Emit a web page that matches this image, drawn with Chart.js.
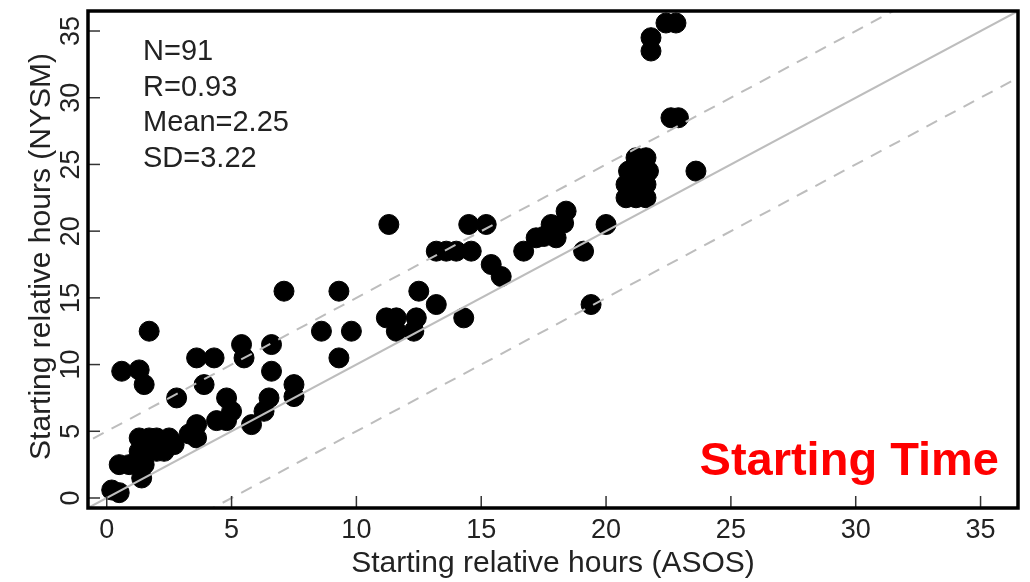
<!DOCTYPE html>
<html>
<head>
<meta charset="utf-8">
<script src="https://cdn.jsdelivr.net/npm/chart.js@4/dist/chart.umd.min.js"></script>
<style>
  html, body { margin: 0; padding: 0; background: #fff; }
  #wrap { width: 1030px; height: 582px; }
</style>
</head>
<body>
<div id="wrap"><canvas id="chart-start" width="1030" height="582"></canvas></div>
<script>
// ASOS (x) vs NYSM (y) starting relative hours
const asosHours = [
  0.2, 0.5, 0.5, 0.9, 1.4, 1.3, 1.3, 1.7, 2.0, 1.6, 2.0, 2.5, 2.3, 1.5, 2.7,
  0.6, 1.3, 1.5, 1.7, 2.8, 3.6, 4.3, 3.9, 3.6, 3.6, 4.4, 4.8, 4.8, 5.0, 5.4,
  5.5, 5.8, 6.3, 6.5, 6.6, 6.6, 7.5, 7.5, 7.1, 9.3, 8.6, 9.8, 9.3, 11.3, 11.2,
  11.6, 11.6, 12.4, 12.3, 12.5, 13.2, 14.3, 13.2, 13.6, 14.0, 14.6, 14.5, 15.2, 15.4, 15.8,
  16.7, 17.2, 17.5, 17.8, 18.0, 18.4, 18.3, 19.1, 19.4, 20.0,
  20.8, 21.2, 21.6, 20.8, 21.2, 21.6, 20.9, 21.3, 21.7, 21.2, 21.6, 21.0,
  23.6, 22.6, 22.9, 21.8, 21.8, 22.4, 22.8, 1.8, 3.3
];
const nysmHours = [
  0.6, 0.4, 2.5, 2.5, 1.5, 3.5, 4.5, 4.5, 4.5, 3.5, 3.5, 4.5, 3.5, 2.5, 4.0,
  9.5, 9.6, 8.5, 12.5, 7.5, 10.5, 10.5, 8.5, 5.5, 4.5, 5.8, 5.8, 7.5, 6.5, 11.5,
  10.5, 5.5, 6.5, 7.5, 9.5, 11.5, 8.5, 7.6, 15.5, 15.5, 12.5, 12.5, 10.5, 20.5, 13.5,
  13.5, 12.5, 13.5, 12.5, 15.5, 14.5, 13.5, 18.5, 18.5, 18.5, 18.5, 20.5, 20.5, 17.5, 16.6,
  18.5, 19.5, 19.6, 20.5, 19.5, 21.5, 20.6, 18.5, 14.5, 20.5,
  22.5, 22.5, 22.5, 23.5, 23.5, 23.5, 24.5, 24.5, 24.5, 25.5, 25.5, 24.0,
  24.5, 28.5, 28.5, 33.5, 34.5, 35.6, 35.6, 4.0, 4.8
];
const tickValues = [0, 5, 10, 15, 20, 25, 30, 35];
const axisMin = -0.75;
const axisMax = 36.5;
const lineOffsets = [0, 5, -5];   // 1:1 line and +/- 5 h
const lineEnds = [-5, 45];
const statLines = ['N=91', 'R=0.93', 'Mean=2.25', 'SD=3.22'];
const xTitle = 'Starting relative hours (ASOS)';
const yTitle = 'Starting relative hours (NYSM)';
const panelLabel = 'Starting Time';

const FONT = '"Liberation Sans", Arial, Helvetica, sans-serif';

const points = asosHours.map((x, i) => ({x, y: nysmHours[i]}));

const refLines = lineOffsets.map(off => ({
  type: 'line',
  data: lineEnds.map(x => ({x, y: x + off})),
  borderColor: '#bdbdbd',
  borderWidth: 2,
  borderDash: off === 0 ? [] : [12, 9],
  pointRadius: 0,
  showLine: true,
  order: 0
}));

const framePlugin = {
  id: 'frame',
  afterDraw(chart) {
    const {ctx, chartArea: a, scales} = chart;
    ctx.save();
    // inward ticks
    ctx.strokeStyle = '#333';
    ctx.lineWidth = 1.5;
    tickValues.forEach(v => {
      const px = scales.x.getPixelForValue(v);
      ctx.beginPath(); ctx.moveTo(px, a.bottom); ctx.lineTo(px, a.bottom - 12); ctx.stroke();
      const py = scales.y.getPixelForValue(v);
      ctx.beginPath(); ctx.moveTo(a.left, py); ctx.lineTo(a.left + 12, py); ctx.stroke();
    });
    // box
    ctx.strokeStyle = '#000';
    ctx.lineWidth = 3.5;
    ctx.strokeRect(a.left, a.top, a.right - a.left, a.bottom - a.top);

    // y tick labels, rotated like R's default
    ctx.fillStyle = '#222';
    ctx.font = '27px ' + FONT;
    ctx.textAlign = 'center';
    ctx.textBaseline = 'alphabetic';
    tickValues.forEach(v => {
      const py = scales.y.getPixelForValue(v);
      ctx.save();
      ctx.translate(79, py);
      ctx.rotate(-Math.PI / 2);
      ctx.fillText(String(v), 0, 0);
      ctx.restore();
    });

    // axis titles
    ctx.font = '30px ' + FONT;
    ctx.fillText(xTitle, (a.left + a.right) / 2, 572);
    ctx.save();
    ctx.translate(50, (a.top + a.bottom) / 2 - 3);
    ctx.rotate(-Math.PI / 2);
    ctx.fillText(yTitle, 0, 0);
    ctx.restore();

    // stats block
    ctx.font = '29px ' + FONT;
    ctx.textAlign = 'left';
    statLines.forEach((s, i) => ctx.fillText(s, 143, 60 + i * 35.7));

    // panel label
    ctx.fillStyle = '#ff0000';
    ctx.font = 'bold 47px ' + FONT;
    ctx.textAlign = 'right';
    ctx.fillText(panelLabel, 999, 475);
    ctx.restore();
  }
};

const chart = new Chart(document.getElementById('chart-start'), {
  type: 'scatter',
  data: {
    datasets: [
      ...refLines,
      {
        data: points,
        backgroundColor: '#000',
        borderColor: '#000',
        borderWidth: 1,
        pointRadius: 10,
        order: 1
      }
    ]
  },
  options: {
    responsive: false,
    animation: false,
    layout: {padding: {left: 0, right: 12, top: 10, bottom: 0}},
    plugins: {legend: {display: false}, tooltip: {enabled: false}},
    scales: {
      x: {
        type: 'linear',
        min: axisMin,
        max: axisMax,
        afterBuildTicks: s => { s.ticks = tickValues.map(v => ({value: v})); },
        afterFit: s => { s.height = 74; },
        grid: {display: false, drawTicks: false},
        border: {display: false},
        ticks: {color: '#222', padding: 6, font: {family: FONT, size: 27}}
      },
      y: {
        type: 'linear',
        min: axisMin,
        max: axisMax,
        afterBuildTicks: s => { s.ticks = tickValues.map(v => ({value: v})); },
        afterFit: s => { s.width = 88; },
        grid: {display: false, drawTicks: false},
        border: {display: false},
        ticks: {display: false}
      }
    }
  },
  plugins: [framePlugin]
});
</script>
</body>
</html>
